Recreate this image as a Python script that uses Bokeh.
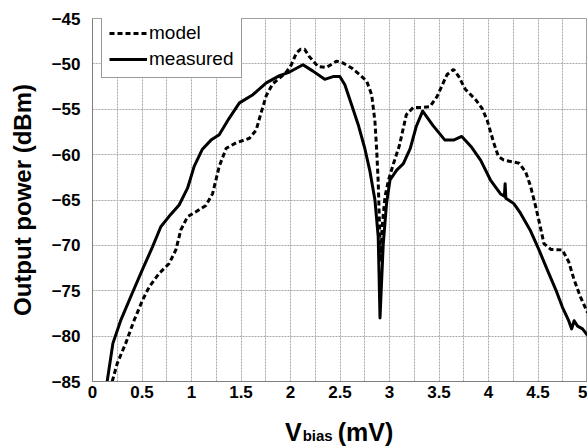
from bokeh.plotting import figure
from bokeh.models import FixedTicker, Range1d, Div
from bokeh.layouts import column
from bokeh.embed import file_html
from bokeh.resources import INLINE

# ---- data ----
model_x = [0.199, 0.25, 0.335, 0.419, 0.503, 0.571, 0.672, 0.774, 0.842, 0.892, 0.96, 1.045,
           1.146, 1.213, 1.28, 1.35, 1.45, 1.585, 1.653, 1.70, 1.755, 1.82, 1.907, 1.957, 2.008,
           2.06, 2.1, 2.143, 2.19, 2.278, 2.363, 2.464, 2.53, 2.617, 2.70, 2.77, 2.82, 2.853,
           2.87, 2.886, 2.9, 2.912, 2.925, 2.955, 2.99, 3.04, 3.1, 3.17, 3.24, 3.33, 3.41, 3.48,
           3.58, 3.647, 3.70, 3.766, 3.87, 3.935, 3.986, 4.053, 4.10, 4.154, 4.31, 4.375, 4.425,
           4.476, 4.52, 4.56, 4.63, 4.746, 4.81, 4.865, 4.93, 5.0]
model_y = [-85.0, -83.0, -80.8, -78.3, -76.1, -74.6, -73.1, -72.0, -70.5, -68.3, -66.85, -66.3,
           -65.6, -64.3, -61.3, -59.3, -58.7, -58.2, -57.3, -55.5, -53.5, -52.2, -51.4, -50.9, -50.1,
           -48.8, -48.4, -48.4, -49.2, -50.3, -50.4, -49.7, -49.9, -50.45, -51.2, -51.9, -53.4, -56.35,
           -59.4, -63.0, -68.0, -71.8, -68.0, -64.6, -62.8, -61.0, -59.0, -55.6, -54.8, -54.8, -54.7, -53.6,
           -51.2, -50.6, -51.4, -52.8, -53.95, -54.9, -56.2, -58.7, -60.2, -60.6, -60.95, -61.9, -63.5,
           -65.7, -67.8, -69.8, -70.45, -70.5, -71.8, -73.8, -75.7, -77.4]

meas_x = [0.148, 0.206, 0.284, 0.40, 0.503, 0.605, 0.69, 0.774, 0.875, 0.96, 1.027, 1.11, 1.197,
          1.28, 1.38, 1.484, 1.62, 1.755, 1.89, 1.99, 2.126, 2.227, 2.346, 2.43, 2.498, 2.549, 2.617,
          2.684, 2.75, 2.80, 2.853, 2.886, 2.904, 2.937, 2.97, 3.005, 3.073, 3.14, 3.21, 3.27, 3.335,
          3.44, 3.56, 3.647, 3.73, 3.83, 3.92, 4.02, 4.12, 4.16, 4.168, 4.175, 4.256, 4.32, 4.42,
          4.51, 4.594, 4.68, 4.746, 4.81, 4.84, 4.865, 4.9, 4.95, 5.0]
meas_y = [-85.0, -80.8, -78.3, -75.3, -72.7, -70.2, -67.95, -66.8, -65.55, -63.7, -61.3, -59.4, -58.4,
          -57.8, -56.0, -54.3, -53.4, -52.1, -51.3, -50.9, -50.1, -50.8, -51.7, -51.4, -51.4, -52.3, -54.5,
          -56.7, -59.3, -61.7, -65.0, -69.05, -78.0, -69.8, -65.4, -62.8, -61.7, -61.0, -59.3, -56.9, -55.2,
          -56.8, -58.4, -58.4, -58.0, -59.2, -60.6, -62.8, -64.3, -64.6, -63.2, -64.8, -65.4, -66.4, -68.3,
          -70.5, -72.7, -74.9, -76.8, -78.3, -79.2, -78.3, -78.9, -79.2, -79.9]

x_ticks = [0, 0.5, 1, 1.5, 2, 2.5, 3, 3.5, 4, 4.5, 5]
x_tick_labels = ["0", "0.5", "1", "1.5", "2", "2.5", "3", "3.5", "4", "4.5", "5"]
x_minor = [0.25, 0.75, 1.25, 1.75, 2.25, 2.75, 3.25, 3.75, 4.25, 4.75]
y_ticks = [-85, -80, -75, -70, -65, -60, -55, -50, -45]

FONT = "Liberation Sans"

p = figure(width=587, height=408, output_backend="svg", toolbar_location=None,
           x_range=Range1d(0, 5), y_range=Range1d(-85, -45),
           min_border_left=92, min_border_right=0, min_border_top=18, min_border_bottom=27)
p.background_fill_color = "white"
p.border_fill_color = "white"
p.outline_line_color = "#a0a0a0"

p.line(model_x, model_y, line_color="black", line_width=3, line_dash="5 3",
       legend_label="model")
p.line(meas_x, meas_y, line_color="black", line_width=3, line_join="round",
       legend_label="measured")

# axes
p.xaxis.ticker = FixedTicker(ticks=x_ticks, minor_ticks=x_minor)
p.xaxis.major_label_overrides = {t: l for t, l in zip(x_ticks, x_tick_labels)}
p.yaxis.ticker = FixedTicker(ticks=y_ticks)
for ax in (p.xaxis, p.yaxis):
    ax.major_tick_out = 0
    ax.major_tick_in = 0
    ax.minor_tick_out = 0
    ax.minor_tick_in = 0
    ax.axis_line_color = "#808080"
    ax.major_label_text_font = FONT
    ax.major_label_text_font_style = "bold"
    ax.major_label_text_font_size = "17px"
    ax.major_label_text_color = "black"
p.xaxis.major_label_standoff = 4
p.yaxis.major_label_standoff = 12
p.yaxis.axis_label = "Output power (dBm)"
p.yaxis.axis_label_text_font = FONT
p.yaxis.axis_label_text_font_style = "bold"
p.yaxis.axis_label_text_font_size = "24px"
p.yaxis.axis_label_text_color = "black"
p.yaxis.axis_label_standoff = 13

# grid
p.xgrid.grid_line_color = "#a8a8a8"
p.xgrid.grid_line_dash = "2 1"
p.xgrid.minor_grid_line_color = "#a8a8a8"
p.xgrid.minor_grid_line_dash = "2 1"
p.ygrid.grid_line_color = "#a8a8a8"
p.ygrid.grid_line_dash = "2 1"

# legend
lg = p.legend[0]
lg.location = (9, 303)
lg.label_text_font = FONT
lg.label_text_font_size = "19px"
lg.label_text_color = "black"
lg.glyph_width = 38
lg.glyph_height = 22
lg.label_standoff = 2
lg.padding = 7
lg.spacing = 4
lg.margin = 0
lg.border_line_color = "#333333"
lg.border_line_width = 1
lg.background_fill_alpha = 1.0

# x axis label with subscript (HTML text below the plot)
xlabel = Div(
    text=('<div style="font-family:\'Liberation Sans\';font-weight:bold;font-size:25px;'
          'color:black;padding-left:285px;padding-top:7px;white-space:nowrap;">'
          'V<span style="font-size:15px;margin-left:1px;">bias</span>'
          '<span style="margin-left:5px;">(mV)</span></div>'),
    width=587, height=38, margin=0)

layout = column(p, xlabel, spacing=0)
open("out.html", "w").write(file_html(layout, INLINE))
